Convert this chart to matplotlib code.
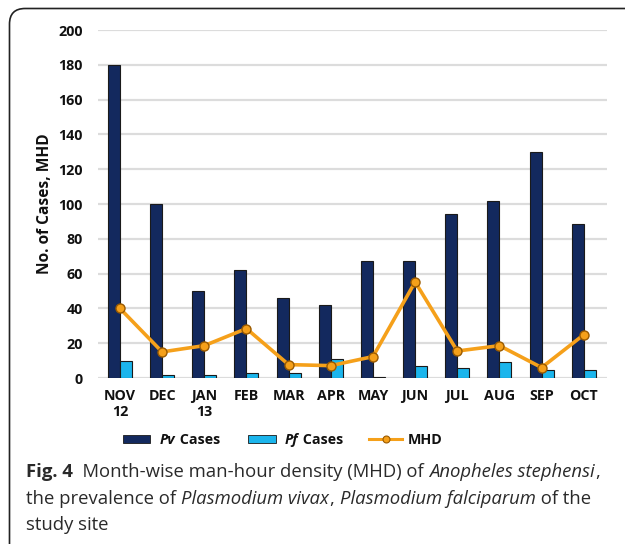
import matplotlib
matplotlib.use("Agg")
import matplotlib.pyplot as plt
import numpy as np
from matplotlib.patches import FancyBboxPatch, Rectangle
from matplotlib.lines import Line2D

months = ["NOV\n12", "DEC", "JAN\n13", "FEB", "MAR", "APR", "MAY", "JUN", "JUL", "AUG", "SEP", "OCT"]
pv_cases = [180, 100, 50, 62, 46, 42, 67, 67, 94, 102, 130, 88.5]
pf_cases = [9.5, 1.5, 1.5, 2.8, 2.8, 10.7, 0.5, 6.7, 6, 9, 4.6, 4.6]
mhd = [40, 15, 18.6, 28.4, 7.7, 7.1, 12.3, 55.2, 15.5, 18.6, 6, 24.9]
yticks = [0, 20, 40, 60, 80, 100, 120, 140, 160, 180, 200]

PV_COL = "#13295e"
PF_COL = "#1bb5ec"
MHD_COL = "#f5a01a"
W, H = 625, 544

fig = plt.figure(figsize=(W / 100, H / 100), dpi=100)
fig.patch.set_facecolor("white")

# frame
frame = FancyBboxPatch((9.5 / W, -20 / H), 700 / W, (H - 8.5 + 20) / H,
                       boxstyle="round,pad=0,rounding_size=0.025",
                       transform=fig.transFigure, fill=False, ec="#222222", lw=1.2,
                       mutation_aspect=W / H)
fig.patches.append(frame)

ax = fig.add_axes([98 / W, 1 - 378 / H, (607 - 98) / W, (378 - 30) / H])
x = np.arange(len(months))
bw = 0.285
ax.bar(x - bw / 2, pv_cases, bw, color=PV_COL, edgecolor="#1a1a1a", lw=0.8, zorder=3)
ax.bar(x + bw / 2, pf_cases, bw, color=PF_COL, edgecolor="#1a1a1a", lw=0.8, zorder=3)
ax.plot(x, mhd, color=MHD_COL, lw=2.6, marker="o", ms=6.5, mfc=MHD_COL,
        mec="#9a5a00", mew=1.0, zorder=4)

ax.set_ylim(0, 200)
ax.set_xlim(-0.52, 11.55)
ax.set_yticks(yticks)
ax.yaxis.grid(True, color="#dcdcdc", lw=1.6, zorder=0)
ax.set_axisbelow(True)
for s in ax.spines.values():
    s.set_visible(False)
ax.tick_params(length=0)
ax.tick_params(axis="y", pad=11)
ax.tick_params(axis="x", pad=8)
ax.set_xticks(x)
ax.set_xticklabels(months, linespacing=1.2)
for lab in ax.get_xticklabels() + ax.get_yticklabels():
    lab.set_fontfamily("Open Sans")
    lab.set_fontweight("bold")
    lab.set_fontsize(10.3)
    lab.set_color("#111111")
ax.set_ylabel("No. of Cases, MHD", fontfamily="Open Sans", fontweight="bold",
              fontsize=11.2, labelpad=4, color="#111111")

# legend (manual)
ly = 1 - 439 / H
def fx(px):
    return px / W
fig.patches.append(Rectangle((fx(123), ly - 4 / H), 27 / W, 8 / H, transform=fig.transFigure,
                             fc=PV_COL, ec="#1a1a1a", lw=0.6))
fig.patches.append(Rectangle((fx(248), ly - 4 / H), 28 / W, 8 / H, transform=fig.transFigure,
                             fc=PF_COL, ec="#1a1a1a", lw=0.6))
fig.lines.append(Line2D([fx(369), fx(402)], [ly, ly], transform=fig.transFigure,
                        color=MHD_COL, lw=2.2))
fig.lines.append(Line2D([fx(386)], [ly], transform=fig.transFigure, marker="o", ms=5,
                        mfc=MHD_COL, mec="#9a5a00", mew=0.8, color=MHD_COL))

fig.canvas.draw()
renderer = fig.canvas.get_renderer()

def run_text(x0, y0, pieces, size, col):
    cur = x0
    for txt, style, weight in pieces:
        t = fig.text(cur / W, 1 - y0 / H, txt, fontfamily="Open Sans", fontsize=size,
                     fontstyle=style, fontweight=weight, va="baseline", ha="left", color=col)
        bb = t.get_window_extent(renderer=renderer)
        cur = bb.x1 + 0.5

run_text(160, 444, [("Pv", "italic", "bold"), (" Cases", "normal", "bold")], 10.3, "#111111")
run_text(285, 444, [("Pf", "italic", "bold"), (" Cases", "normal", "bold")], 10.3, "#111111")
run_text(408, 444, [("MHD", "normal", "bold")], 10.3, "#111111")

cs = 13.3
cc = "#2a2a2a"
run_text(26, 477, [("Fig. 4", "normal", "bold"), ("  Month-wise man-hour density (MHD) of ", "normal", "normal"),
                   ("Anopheles stephensi", "italic", "normal"), (",", "normal", "normal")], cs, cc)
run_text(26, 504, [("the prevalence of ", "normal", "normal"), ("Plasmodium vivax", "italic", "normal"),
                   (", ", "normal", "normal"), ("Plasmodium falciparum", "italic", "normal"),
                   (" of the", "normal", "normal")], cs, cc)
run_text(26, 530, [("study site", "normal", "normal")], cs, cc)

fig.savefig("out.png", dpi=100, facecolor="white")
